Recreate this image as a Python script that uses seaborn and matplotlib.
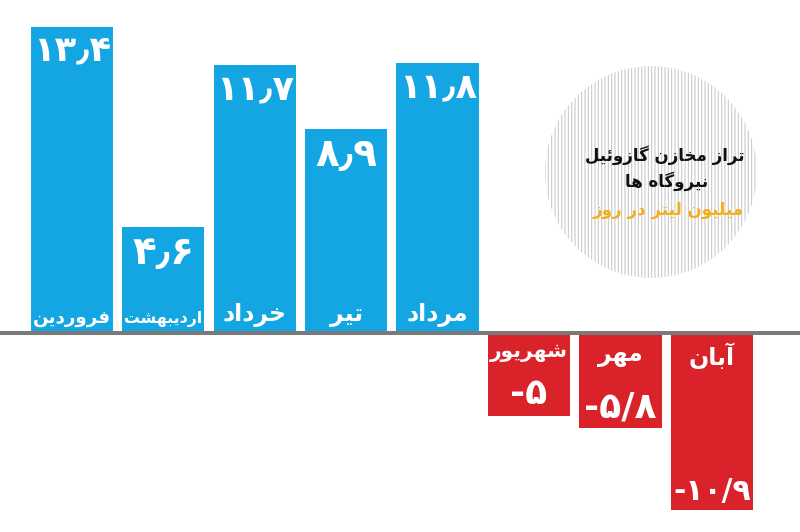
import pandas as pd
import matplotlib
matplotlib.use("Agg")
import matplotlib.pyplot as plt
import matplotlib.patches as mpatches
import seaborn as sns

# داده‌ها
months = ["فروردین", "اردیبهشت", "خرداد", "تیر", "مرداد", "شهریور", "مهر", "آبان"]
values = [13.4, 4.6, 11.7, 8.9, 11.8, -5.0, -5.8, -10.9]
title_lines = ["تراز مخازن گازوئیل", "نیروگاه\u200cها"]
unit_text = "میلیون لیتر در روز"

BLUE = "#14a6e3"
RED = "#d9222a"
ORANGE = "#f4ae1c"

# شکل‌دهی ساده حروف فارسی (isolated, final, initial, medial)
FORMS = {
    "ا": ("\uFE8D", "\uFE8E", None, None),
    "آ": ("\uFE81", "\uFE82", None, None),
    "ب": ("\uFE8F", "\uFE90", "\uFE91", "\uFE92"),
    "ت": ("\uFE95", "\uFE96", "\uFE97", "\uFE98"),
    "خ": ("\uFEA5", "\uFEA6", "\uFEA7", "\uFEA8"),
    "د": ("\uFEA9", "\uFEAA", None, None),
    "ر": ("\uFEAD", "\uFEAE", None, None),
    "ز": ("\uFEAF", "\uFEB0", None, None),
    "ش": ("\uFEB5", "\uFEB6", "\uFEB7", "\uFEB8"),
    "ف": ("\uFED1", "\uFED2", "\uFED3", "\uFED4"),
    "ل": ("\uFEDD", "\uFEDE", "\uFEDF", "\uFEE0"),
    "م": ("\uFEE1", "\uFEE2", "\uFEE3", "\uFEE4"),
    "ن": ("\uFEE5", "\uFEE6", "\uFEE7", "\uFEE8"),
    "ه": ("\uFEE9", "\uFEEA", "\uFEEB", "\uFEEC"),
    "و": ("\uFEED", "\uFEEE", None, None),
    "ئ": ("\uFE89", "\uFE8A", "\uFE8B", "\uFE8C"),
    "ی": ("\uFEEF", "\uFEF0", "\uFEF3", "\uFEF4"),
    "ک": ("\uFB8E", "\uFB8F", "\uFB90", "\uFB91"),
    "گ": ("\uFB92", "\uFB93", "\uFB94", "\uFB95"),
}


def fa(text):
    out = []
    for i, ch in enumerate(text):
        if ch not in FORMS:
            out.append(" " if ch == "\u200c" else ch)
            continue
        prev = text[i - 1] if i > 0 else ""
        nxt = text[i + 1] if i + 1 < len(text) else ""
        jp = prev in FORMS and FORMS[prev][2] is not None
        jn = nxt in FORMS and FORMS[ch][2] is not None
        iso, fin, ini, med = FORMS[ch]
        if jp and jn:
            out.append(med)
        elif jp:
            out.append(fin)
        elif jn:
            out.append(ini)
        else:
            out.append(iso)
    return "".join(out[::-1])


def fa_num(v, sep):
    s = f"{abs(v):.1f}".rstrip("0").rstrip(".")
    s = s.translate(str.maketrans("0123456789", "۰۱۲۳۴۵۶۷۸۹")).replace(".", sep)
    return ("-" if v < 0 else "") + s


df = pd.DataFrame({"month": months, "value": values})
df["label"] = [fa(m) for m in months]

sns.set_style("white")
plt.rcParams["font.family"] = ["DejaVu Sans"]
plt.rcParams["hatch.linewidth"] = 0.7

fig = plt.figure(figsize=(8, 5.32), dpi=100)

# لایه زمینه: دایره و خط پایه
bg = fig.add_axes([0, 0, 1, 1])
bg.set_xlim(0, 800)
bg.set_ylim(0, 532)
bg.axis("off")
bg.add_patch(mpatches.Circle((651, 360), 106, facecolor="none",
                             edgecolor="#c4c4c4", hatch="|||||", lw=0))
bg.axhline(199, color="#7a7a7a", lw=2.9)
bg.text(745, 371, fa(title_lines[0]), ha="right", va="baseline",
        fontsize=12, fontweight="bold", color="#111111")
bg.text(708, 345, fa(title_lines[1]), ha="right", va="baseline",
        fontsize=12, fontweight="bold", color="#111111")
bg.text(744, 317, fa(unit_text), ha="right", va="baseline",
        fontsize=12, fontweight="bold", color=ORANGE)

px_pos, px_neg = 22.7, 16.1
ax_top = fig.add_axes([0, 201 / 532, 1, 331 / 532])
ax_bot = fig.add_axes([0, 0, 1, 197 / 532])

pos = df[df.value > 0]
neg = df[df.value < 0]
sns.barplot(data=pos, x="month", y="value", order=months, color=BLUE,
            saturation=1, width=0.9, linewidth=0, errorbar=None, ax=ax_top)
sns.barplot(data=neg, x="month", y="value", order=months, color=RED,
            saturation=1, width=0.9, linewidth=0, errorbar=None, ax=ax_bot)

ax_top.set_ylim(0, 331 / px_pos)
ax_bot.set_ylim(-197 / px_neg, 0)
for ax in (ax_top, ax_bot):
    ax.set_xlim(-0.786, 7.963)
    ax.set_facecolor("none")
    ax.axis("off")

texts = []
for i, row in df.iterrows():
    if row.value > 0:
        texts.append(ax_top.annotate(fa_num(row.value, "٫"), (i, row.value), xytext=(0, -5),
                                     textcoords="offset points", ha="center", va="top",
                                     fontsize=28, fontweight="bold", color="white"))
        texts.append(ax_top.annotate(row.label, (i, 0), xytext=(0, 3),
                                     textcoords="offset points", ha="center", va="bottom",
                                     fontsize=17, fontweight="bold", color="white"))
    else:
        texts.append(ax_bot.annotate(row.label, (i, 0), xytext=(0, -6),
                                     textcoords="offset points", ha="center", va="top",
                                     fontsize=17, fontweight="bold", color="white"))
        texts.append(ax_bot.annotate(fa_num(row.value, "/"), (i, row.value), xytext=(0, 3),
                                     textcoords="offset points", ha="center", va="bottom",
                                     fontsize=26, fontweight="bold", color="white"))

# متن‌ها را در پهنای ستون جا بده
renderer = fig.canvas.get_renderer()
for t in texts:
    w = t.get_window_extent(renderer).width
    if w > 78:
        t.set_fontsize(t.get_fontsize() * 78 / w)

fig.savefig("out.png", dpi=100, facecolor="white")
